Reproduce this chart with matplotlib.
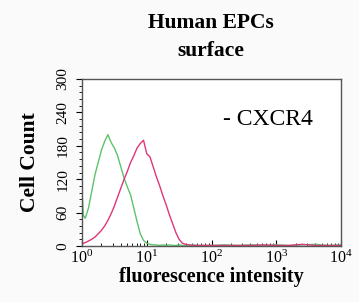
import numpy as np
import matplotlib
matplotlib.use('Agg')
from matplotlib import pyplot as plt

plt.rcParams['font.family'] = ['Liberation Serif', 'DejaVu Serif']

# log10 positions of the histogram channels
log_x = [0.00, 0.02, 0.05, 0.10, 0.15, 0.20, 0.25, 0.30, 0.35, 0.40, 0.45,
         0.50, 0.55, 0.60, 0.65, 0.70, 0.75, 0.80, 0.85, 0.90, 0.95,
         1.00, 1.05, 1.10, 1.15, 1.20, 1.25, 1.30, 1.35, 1.40, 1.45,
         1.50, 1.55, 1.60, 1.70, 1.80, 2.00, 2.20, 2.40, 2.60, 2.80,
         3.00, 3.20, 3.40, 3.60, 3.80, 4.00]
green = [100, 55, 50, 68, 98, 128, 150, 172, 188, 200, 186,
         176, 162, 142, 122, 106, 92, 68, 44, 22, 10,
         5, 3, 2, 2, 1, 2, 1, 2, 1, 1,
         2, 1, 1, 2, 1, 1, 2, 1, 2, 1,
         2, 1, 2, 3, 1, 2]
red = [4, 5, 6, 9, 12, 16, 22, 28, 36, 46, 58,
       72, 88, 104, 120, 134, 150, 162, 176, 184, 190,
       166, 160, 142, 124, 108, 90, 74, 56, 40, 24,
       12, 5, 3, 1, 1, 1, 1, 1, 1, 2,
       1, 1, 3, 1, 1, 1]

x = 10 ** np.array(log_x)

fig = plt.figure(figsize=(3.59, 3.02), dpi=100)
fig.patch.set_facecolor('#fafafa')
ax = fig.add_axes([82/359, 1-246/302, (341-82)/359, (246-79)/302])
ax.set_facecolor('white')
ax.plot(x, green, color='#5cc36c', lw=1.0)
ax.plot(x, red, color='#e0357a', lw=1.0)
ax.set_xscale('log')
ax.set_xlim(1, 1e4)
ax.set_ylim(0, 300)
ax.set_yticks([0, 60, 120, 180, 240, 300])
ax.set_yticks(np.arange(0, 301, 12), minor=True)
ax.tick_params(axis='y', labelrotation=90, labelsize=11, direction='out', length=4, width=0.8, pad=5)
ax.tick_params(axis='y', which='minor', direction='out', length=2)
ax.tick_params(axis='x', labelsize=11.5, direction='in', length=4, width=0.8, pad=3)
ax.tick_params(axis='x', which='minor', direction='in', length=2)
for lab in ax.get_yticklabels():
    lab.set_va('center')
for s in ax.spines.values():
    s.set_color('#555555')
    s.set_linewidth(1.0)

ax.text(0.545, 0.755, '- CXCR4', transform=ax.transAxes, fontsize=17, va='center')
ax.set_ylabel('Cell Count', fontsize=15.5, fontweight='bold', labelpad=12)
ax.set_xlabel('fluorescence intensity', fontsize=14.5, fontweight='bold', labelpad=0)
fig.text(211/359, 1-23/302, 'Human EPCs', ha='center', va='center', fontsize=15.5, fontweight='bold')
fig.text(211/359, 1-51/302, 'surface', ha='center', va='center', fontsize=15.5, fontweight='bold')

fig.savefig('out.png', dpi=100)
